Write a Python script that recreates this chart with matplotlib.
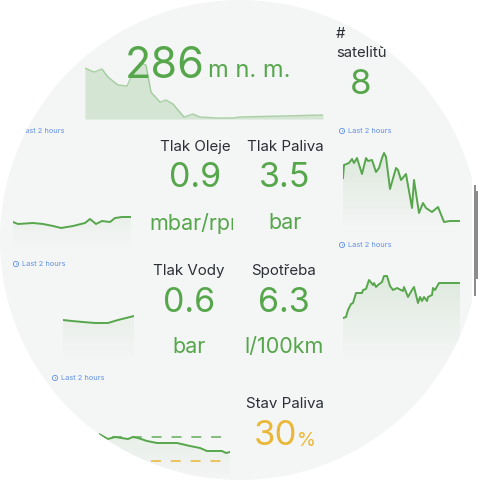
import matplotlib
matplotlib.use('Agg')
import matplotlib.pyplot as plt
import numpy as np
from matplotlib.patches import Circle, PathPatch, Rectangle
from matplotlib.path import Path
from matplotlib.transforms import Bbox

plt.rcParams['font.family'] = ['Inter', 'DejaVu Sans']

GREEN = '#56a64b'
YELLOW = '#eab839'
TITLE = '#2b2f36'
BLUE = '#5f8fe8'
BG = '#f4f5f5'

stat_titles = ['Tlak Oleje', 'Tlak Paliva', 'Tlak Vody', 'Spotřeba', 'Stav Paliva']
stat_values = ['0.9', '3.5', '0.6', '6.3', '30']
stat_units = ['mbar/rpm', 'bar', 'bar', 'l/100km', '%']

# sparklines, y is height over the panel floor
alt_x = [85, 94, 102, 108, 118, 127, 132, 140, 146, 151, 160, 166, 173, 184, 193, 200, 217, 233, 240, 323]
alt_y = [51, 47, 50, 42, 34, 33, 44, 56, 54, 27, 17, 19, 15, 2, 5, 2, 1, 1, 2, 4]

oil_x = [13, 18, 33, 43, 53, 61, 73, 85, 90, 96, 102, 110, 115, 122, 131]
oil_y = [26, 24, 25, 24, 22, 20, 22, 25, 29, 24, 27, 26, 30, 31, 31]

fuel_x = [343, 344, 349, 352, 354, 357, 362, 366, 368, 372, 376, 379, 382, 384, 386, 390, 396, 398, 401, 406, 412, 414, 419, 423, 426, 432, 438, 444, 450, 460]
fuel_y = [50, 63, 65, 69, 65, 70, 54, 70, 67, 68, 56, 60, 70, 75, 71, 39, 60, 58, 48, 54, 20, 48, 15, 25, 20, 16, 21, 6, 7, 7]

water_x = [63, 72, 83, 95, 108, 118, 134]
water_y = [40, 39, 38, 37, 37, 40, 44]

cons_x = [343, 346, 348, 351, 353, 356, 362, 363, 366, 369, 373, 374, 376, 378, 382, 384, 387, 390, 393, 397, 403, 404, 408, 412, 414, 418, 420, 422, 424, 427, 428, 432, 433, 435, 439, 460]
cons_y = [42, 43, 50, 56, 57, 67, 67, 70, 71, 80, 75, 77, 73, 75, 78, 84, 84, 74, 70, 72, 69, 73, 63, 70, 73, 57, 63, 59, 63, 59, 63, 65, 72, 70, 77, 77]

level_x = [99, 108, 115, 128, 133, 138, 147, 157, 177, 190, 200, 207, 222, 226, 230]
level_y = [46, 41, 43, 41, 43, 42, 39, 37, 37, 34, 32, 29, 29, 27, 28]
level_hi = 43
level_lo = 19
level_hi_x = [112, 222]
level_lo_x = [151, 222]

clock_x = [15, 342, 16, 342, 55]
clock_y = [131, 131, 264, 245, 378]


def spark(x0, y0, x1, y1, xs, ys, fill_alpha=0.15, solid=False):
    ax = fig.add_axes([x0 / 480, 1 - y1 / 480, (x1 - x0) / 480, (y1 - y0) / 480])
    ax.patch.set_alpha(0)
    ax.axis('off')
    if solid:
        ax.fill_between(xs, 0, ys, color=GREEN, alpha=0.2, lw=0)
        ax.plot(xs, ys, color=GREEN, lw=1, alpha=0.45)
    else:
        # vertical fade under the line
        rgba = np.zeros((64, 1, 4))
        rgba[..., :3] = matplotlib.colors.to_rgb(GREEN)
        rgba[:, 0, 3] = np.linspace(fill_alpha, 0, 64)
        im = ax.imshow(rgba, extent=[x0, x1, 0, max(ys)], aspect='auto', zorder=1)
        poly = ax.fill_between(xs, 0, ys, color='none', lw=0)
        im.set_clip_path(poly.get_paths()[0], transform=ax.transData)
        ax.plot(xs, ys, color=GREEN, lw=1.4, zorder=2)
    ax.set_xlim(x0, x1)
    ax.set_ylim(0, y1 - y0)
    return ax


fig = plt.figure(figsize=(4.8, 4.8), dpi=100)
bg = fig.add_axes([0, 0, 1, 1])
bg.set_xlim(0, 480)
bg.set_ylim(480, 0)
bg.axis('off')
bg.add_patch(Rectangle((0, 0), 480, 480, color=BG, lw=0))

spark(85, 60, 323, 119, alt_x, alt_y, solid=True)
spark(13, 210, 131, 248, oil_x, oil_y, fill_alpha=0.06)
spark(343, 148, 460, 228, fuel_x, fuel_y)
spark(63, 310, 134, 360, water_x, water_y, fill_alpha=0.07)
spark(343, 270, 460, 360, cons_x, cons_y, fill_alpha=0.14)
lev = spark(99, 420, 230, 480, level_x, level_y, fill_alpha=0.08)
lev.plot(level_hi_x, [level_hi, level_hi], color=GREEN, lw=1.4, alpha=0.7, ls=(0, (5.1, 5.1)))
lev.plot(level_lo_x, [level_lo, level_lo], color=YELLOW, lw=1.4, alpha=0.8, ls=(0, (5.1, 5.1)))

bg.text(125, 67, '286', color=GREEN, fontsize=31, va='center', ha='left', zorder=1)
bg.text(208, 71, 'm n. m.', color=GREEN, fontsize=17, va='center', ha='left')
bg.text(336, 34, '#', color=TITLE, fontsize=10.7, va='center')
bg.text(336, 53, 'satelitů', color=TITLE, fontsize=10.7, va='center')
bg.text(361, 85, '8', color=GREEN, fontsize=25, va='center', ha='center')

cols = [(195, 147, 178, 222), (285, 147, 178, 222), (189, 271, 303, 346), (284, 271, 303, 346), (285, 404, 436, None)]
for (cx, ty, vy, uy), t, v, u in zip(cols, stat_titles, stat_values, stat_units):
    col = YELLOW if v == '30' else GREEN
    tt = bg.text(cx, ty, t, color=TITLE, fontsize=10.9, ha='center', va='center')
    if u == '%':
        # bottom of this title is cut by its panel
        tt.set_clip_on(True)
        tt.set_clip_box(Bbox([[0, 72], [480, 480]]))
        bg.text(275, vy, v, color=col, fontsize=25, ha='center', va='center')
        bg.text(306, vy + 5, u, color=col, fontsize=14, ha='center', va='center')
    else:
        bg.text(cx, vy, v, color=col, fontsize=24.5, ha='center', va='center')
        ux = cx + 4 if u == 'mbar/rpm' else cx
        tx = bg.text(ux, uy + 1, u, color=col, fontsize=15.5, ha='center', va='center')
        if u == 'mbar/rpm':
            # unit runs out of its panel
            tx.set_clip_on(True)
            tx.set_clip_box(Bbox([[0, 0], [233, 480]]))

for x, y in zip(clock_x, clock_y):
    bg.text(x + 6, y, 'Last 2 hours', color=BLUE, fontsize=5.3, va='center', ha='left')
    bg.add_patch(Circle((x, y), 2.6, fc='none', ec=BLUE, lw=0.6))
    bg.plot([x, x], [y - 1.5, y], color=BLUE, lw=0.5)

# white corners round the dashboard, and the scrollbar sliver on top
top = fig.add_axes([0, 0, 1, 1], zorder=10)
top.set_xlim(0, 480)
top.set_ylim(480, 0)
top.axis('off')
hole = Circle((240, 240), 240)
hole_path = hole.get_path().transformed(hole.get_patch_transform())
outer = Path([(0, 0), (0, 480), (480, 480), (480, 0), (0, 0)], closed=True)
top.add_patch(PathPatch(Path.make_compound_path(outer, hole_path), fc='white', ec='none'))
top.add_patch(Rectangle((472, 0), 8, 480, color='white', lw=0))
top.add_patch(Rectangle((474, 185), 2, 111, color='#8c8c8c', lw=0))
top.add_patch(Rectangle((476, 191), 2, 88, color='#8c8c8c', lw=0))

fig.savefig('out.png', dpi=100)
